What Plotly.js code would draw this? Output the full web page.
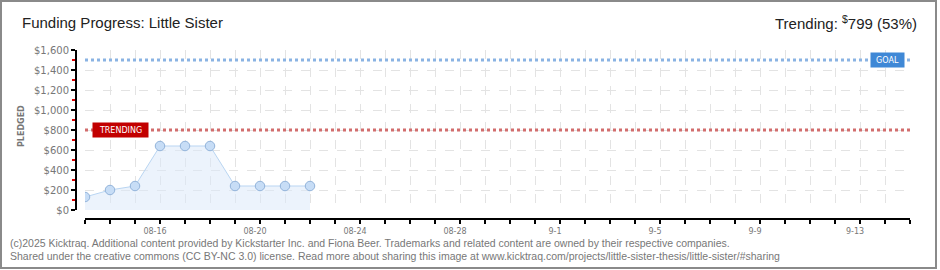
<!DOCTYPE html>
<html>
<head>
<meta charset="utf-8">
<script src="https://cdn.plot.ly/plotly-3.0.1.min.js"></script>
<style>
  html, body { margin: 0; padding: 0; background: #fff; }
  #wrap { position: relative; width: 940px; height: 270px; }
  #chart { width: 940px; height: 270px; }
  #frame { position: absolute; left: 0; top: 0; width: 937px; height: 269px; box-sizing: border-box; border: 2px solid #8a8a8a; pointer-events: none; }
</style>
</head>
<body>
<div id="wrap"><div id="chart"></div><div id="frame"></div></div>
<script>
// ---- data ----
var dates = ['2025-08-13','2025-08-14','2025-08-15','2025-08-16','2025-08-17','2025-08-18','2025-08-19','2025-08-20','2025-08-21','2025-08-22'];
var pledged = [130, 200, 240, 640, 640, 640, 240, 240, 240, 240];
var goal = 1500;
var trending = 799;
var rangeStart = '2025-08-13';
var rangeEnd = '2025-09-15';
var labelDates = ['2025-08-16','2025-08-20','2025-08-24','2025-08-28','2025-09-01','2025-09-05','2025-09-09','2025-09-13'];
var labelTexts = ['08-16','08-20','08-24','08-28','9-1','9-5','9-9','9-13'];
var titleText = 'Funding Progress: Little Sister';
var trendText = 'Trending: <sup>$</sup>799 (53%)';
var footer1 = '(c)2025 Kicktraq. Additional content provided by Kickstarter Inc. and Fiona Beer. Trademarks and related content are owned by their respective companies.';
var footer2 = 'Shared under the creative commons (CC BY-NC 3.0) license. Read more about sharing this image at www.kicktraq.com/projects/little-sister-thesis/little-sister/#sharing';

// daily tick positions across the axis range
var dayVals = [], dayText = [];
(function () {
  var d = new Date(rangeStart + 'T00:00:00Z'), e = new Date(rangeEnd + 'T00:00:00Z');
  while (d <= e) {
    var s = d.toISOString().slice(0, 10);
    dayVals.push(s);
    var k = labelDates.indexOf(s);
    dayText.push(k >= 0 ? labelTexts[k] : ' ');
    d = new Date(d.getTime() + 86400000);
  }
})();
// red minor ticks at the odd hundreds
var minorVals = [];
for (var v = 100; v < 1600; v += 200) minorVals.push(v);

// plot area: x 76..910, y 50..219
var L = 76, R = 910, T = 50, B = 219, W = 940, H = 270;
function px(x) { return (x - L) / (R - L); }
function py(y) { return (B - y) / (B - T); }

var trace = {
  x: dates, y: pledged, type: 'scatter', mode: 'lines+markers',
  fill: 'tozeroy', fillcolor: 'rgba(221,234,250,0.55)',
  line: { color: '#b9d5f2', width: 1 },
  marker: { size: 9.5, color: '#c7ddf6', line: { color: '#92b3da', width: 1 } },
  hoverinfo: 'skip'
};

var layout = {
  width: W, height: H,
  margin: { l: L, r: W - R, t: T, b: H - B, pad: 0 },
  paper_bgcolor: '#fff', plot_bgcolor: '#fff',
  showlegend: false,
  font: { family: 'DejaVu Sans, sans-serif', color: '#777' },
  xaxis: {
    type: 'date', range: [rangeStart, rangeEnd],
    domain: [px(85), 1],
    anchor: 'free', position: 0,
    tickmode: 'array', tickvals: dayVals, ticktext: dayText,
    ticks: 'outside', ticklen: 4, tickwidth: 1.5, tickcolor: '#000',
    showline: true, linecolor: '#000', linewidth: 2,
    showgrid: true, gridcolor: '#e3e3e3', griddash: 'dash', gridwidth: 1,
    zeroline: false,
    tickfont: { family: 'DejaVu Sans, sans-serif', size: 8, color: '#777' },
    ticklabelshift: -5
  },
  yaxis: {
    range: [0, 1600], domain: [py(210), 1],
    anchor: 'free', position: 0,
    dtick: 200, tick0: 0, tickprefix: '$', tickformat: ',d',
    ticks: 'outside', ticklen: 4, tickwidth: 1.5, tickcolor: '#000',
    showline: true, linecolor: '#000', linewidth: 2,
    showgrid: true, gridcolor: '#e3e3e3', griddash: 'dash', gridwidth: 1,
    zeroline: false,
    tickfont: { family: 'DejaVu Sans, sans-serif', size: 10, color: '#777' },
    minor: { tickmode: 'array', tickvals: minorVals, ticks: 'outside', ticklen: 3, tickcolor: '#e00000', tickwidth: 1.5, showgrid: false }
  },
  shapes: [
    { type: 'line', xref: 'x domain', yref: 'y', x0: 0, x1: 1, y0: goal, y1: goal,
      line: { color: '#8ab3e3', width: 3, dash: 'dot' }, layer: 'above' },
    { type: 'line', xref: 'x domain', yref: 'y', x0: 0, x1: 1, y0: trending, y1: trending,
      line: { color: '#d26d6d', width: 3, dash: 'dot' }, layer: 'above' }
  ],
  annotations: [
    { text: titleText, xref: 'paper', yref: 'paper', x: px(20), y: py(22), xanchor: 'left', yanchor: 'middle',
      showarrow: false, font: { family: 'Liberation Sans, sans-serif', size: 15, color: '#222' } },
    { text: trendText, xref: 'paper', yref: 'paper', x: px(919), y: py(22), xanchor: 'right', yanchor: 'middle',
      showarrow: false, font: { family: 'Liberation Sans, sans-serif', size: 15, color: '#222' } },
    { text: 'PLEDGED', xref: 'paper', yref: 'paper', x: px(21), y: py(126), xanchor: 'center', yanchor: 'middle',
      textangle: -90, showarrow: false, font: { family: 'DejaVu Sans, sans-serif', size: 8, color: '#777', weight: 'bold' } },
    { text: 'GOAL', xref: 'paper', yref: 'y', x: px(887.5), y: goal, xanchor: 'center', yanchor: 'middle',
      showarrow: false, bgcolor: '#3f88d6', borderpad: 2, width: 29, height: 10,
      font: { family: 'DejaVu Sans, sans-serif', size: 8, color: '#fff' } },
    { text: 'TRENDING', xref: 'paper', yref: 'y', x: px(120.5), y: trending, xanchor: 'center', yanchor: 'middle',
      showarrow: false, bgcolor: '#c20000', borderpad: 2, width: 51, height: 10,
      font: { family: 'DejaVu Sans, sans-serif', size: 8, color: '#fff' } },
    { text: footer1, xref: 'paper', yref: 'paper', x: px(8), y: py(243), xanchor: 'left', yanchor: 'middle',
      showarrow: false, font: { family: 'Liberation Sans, sans-serif', size: 10.5, color: '#777' } },
    { text: footer2, xref: 'paper', yref: 'paper', x: px(8), y: py(256), xanchor: 'left', yanchor: 'middle',
      showarrow: false, font: { family: 'Liberation Sans, sans-serif', size: 10.5, color: '#777' } }
  ]
};

Plotly.newPlot('chart', [trace], layout, { staticPlot: true, displayModeBar: false });
</script>
</body>
</html>
